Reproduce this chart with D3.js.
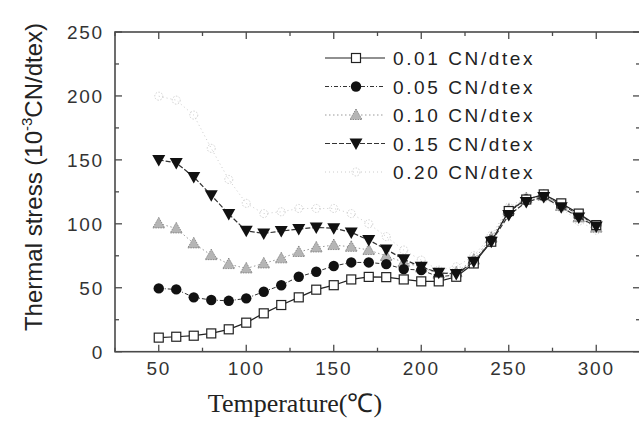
<!DOCTYPE html>
<html><head><meta charset="utf-8">
<script src="https://cdn.jsdelivr.net/npm/d3@7"></script>
<style>body{margin:0;background:#fff}svg{display:block}</style>
</head><body>
<svg id="c" width="639" height="425"></svg>
<script>
const temps = [50,60,70,80,90,100,110,120,130,140,150,160,170,180,190,200,210,220,230,240,250,260,270,280,290,300];
const s001 = [11,11.7,12.5,14.3,17.5,22.7,30,36.5,42.5,48.5,52,56.5,58.5,58.3,56.5,55,55,58.6,69,86,110,119,123,116,108,99];
const s005 = [49.5,48.7,42.5,40.4,39.8,41.7,46.9,52,58.6,62.5,67,69.8,69.8,68.5,64.6,63.8,58.6,60,70,87,109,119,122,115,107,99];
const s010 = [100.3,96.4,84.7,75.5,68.5,65.1,69,73,78,81.5,83.4,82,79.5,74.8,70,66,61,62,72,89,111,120,122,114,105,97];
const s015 = [150,147.6,136.7,122.4,107.6,94.5,92.5,94.3,95.9,97.2,96.6,93.3,87.3,80,72.2,66.4,61.7,60.7,70.3,86,106.8,117,121,113,105,98];
const s020 = [199.8,196.7,185,159,134.7,116,108,109.4,112,112,112,108,100,90,79.5,71.6,63.8,66.4,75,91,113,121,120,112,102,95];
const seriesNames = ["0.01 CN/dtex","0.05 CN/dtex","0.10 CN/dtex","0.15 CN/dtex","0.20 CN/dtex"];
const xTicks = [50,100,150,200,250,300];
const yTicks = [0,50,100,150,200,250];

const svg = d3.select("#c");
const L=115, R=640, T=32, B=351.7;
const x = d3.scaleLinear().domain([25,325]).range([L,R]);
const y = d3.scaleLinear().domain([0,250]).range([B,T]);
const axisCol="#4a4a4a";

const styles = [
  {stroke:"#222", dash:null, w:1.2, marker:"square", fill:"#fff", mstroke:"#222"},
  {stroke:"#333", dash:"4,2,1,2", w:1, marker:"circle", fill:"#111", mstroke:"#111"},
  {stroke:"#999", dash:"1.5,2.5", w:1, marker:"triup", fill:"#b5b5b5", mstroke:"#777"},
  {stroke:"#333", dash:"5,2", w:1.2, marker:"tridown", fill:"#111", mstroke:"#111"},
  {stroke:"#ccc", dash:"1,3", w:1, marker:"circleopen", fill:"#fff", mstroke:"#d0d0d0"}
];
const data=[s001,s005,s010,s015,s020];

const g = svg.append("g");
g.append("rect").attr("x",L).attr("y",T).attr("width",R-L).attr("height",B-T)
 .attr("fill","none").attr("stroke",axisCol).attr("stroke-width",1.6);

const xMinor = d3.range(25,326,25);
const yMinor = d3.range(0,251,25);
xMinor.forEach(v=>{
  const len = (v%50===0)?7:4;
  g.append("line").attr("x1",x(v)).attr("x2",x(v)).attr("y1",B).attr("y2",B-len).attr("stroke",axisCol).attr("stroke-width",1.3);
  g.append("line").attr("x1",x(v)).attr("x2",x(v)).attr("y1",T).attr("y2",T+len).attr("stroke",axisCol).attr("stroke-width",1.3);
});
yMinor.forEach(v=>{
  const len = (v%50===0)?7:4;
  g.append("line").attr("x1",L).attr("x2",L+len).attr("y1",y(v)).attr("y2",y(v)).attr("stroke",axisCol).attr("stroke-width",1.3);
  g.append("line").attr("x1",R).attr("x2",R-len).attr("y1",y(v)).attr("y2",y(v)).attr("stroke",axisCol).attr("stroke-width",1.3);
});

const tickFont = "Liberation Sans, Arial, sans-serif";
g.selectAll(".xt").data(xTicks).enter().append("text")
 .attr("x",d=>x(d)).attr("y",375).attr("text-anchor","middle")
 .attr("font-family",tickFont).attr("font-size",19).attr("letter-spacing",1.8).attr("fill","#333").text(d=>d);
g.selectAll(".yt").data(yTicks).enter().append("text")
 .attr("x",104).attr("y",d=>y(d)+7).attr("text-anchor","end")
 .attr("font-family",tickFont).attr("font-size",19).attr("letter-spacing",1.8).attr("fill","#333").text(d=>d);

const yl = svg.append("text").attr("transform","translate(42,177) rotate(-90)")
 .attr("text-anchor","middle").attr("font-family",tickFont).attr("font-size",24).attr("fill","#222");
yl.append("tspan").text("Thermal stress (10");
yl.append("tspan").attr("dy",-10).attr("font-size",15).text("-3");
yl.append("tspan").attr("dy",10).text("CN/dtex)");

svg.append("text").attr("x",295).attr("y",412).attr("text-anchor","middle")
 .attr("font-family","Liberation Serif, Times New Roman, serif").attr("font-size",26).attr("fill","#222")
 .text("Temperature(\u2103)");

function drawMarker(sel, type, cx, cy, st){
  if(type==="square"){
    sel.append("rect").attr("x",cx-4.5).attr("y",cy-4.5).attr("width",9).attr("height",9)
      .attr("fill",st.fill).attr("stroke",st.mstroke).attr("stroke-width",1.2);
  } else if(type==="circle"){
    sel.append("circle").attr("cx",cx).attr("cy",cy).attr("r",5.2).attr("fill",st.fill);
  } else if(type==="circleopen"){
    sel.append("circle").attr("cx",cx).attr("cy",cy).attr("r",4).attr("fill","none").attr("stroke",st.mstroke).attr("stroke-width",1).attr("stroke-dasharray","1.5,1.5");
  } else if(type==="triup"){
    sel.append("path").attr("d",`M${cx},${cy-6}L${cx+6},${cy+4.5}L${cx-6},${cy+4.5}Z`)
      .attr("fill",st.fill).attr("stroke",st.mstroke).attr("stroke-width",0.8).attr("stroke-dasharray","1.5,1");
  } else if(type==="tridown"){
    sel.append("path").attr("d",`M${cx-6.5},${cy-5}L${cx+6.5},${cy-5}L${cx},${cy+6.5}Z`).attr("fill",st.fill);
  }
}

const line = d3.line().x((d,i)=>x(temps[i])).y(d=>y(d));
[4,2,1,0,3].forEach(si=>{
  const st=styles[si];
  const sg=svg.append("g");
  sg.append("path").datum(data[si]).attr("d",line).attr("fill","none")
    .attr("stroke",st.stroke).attr("stroke-width",st.w).attr("stroke-dasharray",st.dash);
  data[si].forEach((v,i)=>drawMarker(sg, st.marker, x(temps[i]), y(v), st));
});

const lg = svg.append("g");
seriesNames.forEach((n,i)=>{
  const st=styles[i];
  const yy = 58 + i*28.5;
  lg.append("line").attr("x1",325).attr("x2",385).attr("y1",yy).attr("y2",yy)
    .attr("stroke",st.stroke).attr("stroke-width",st.w).attr("stroke-dasharray",st.dash);
  drawMarker(lg, st.marker, 356, yy, st);
  lg.append("text").attr("x",393).attr("y",yy+7).attr("font-family",tickFont).attr("font-size",19)
    .attr("letter-spacing",2.6).attr("fill","#222").text(n);
});
</script>
</body></html>
